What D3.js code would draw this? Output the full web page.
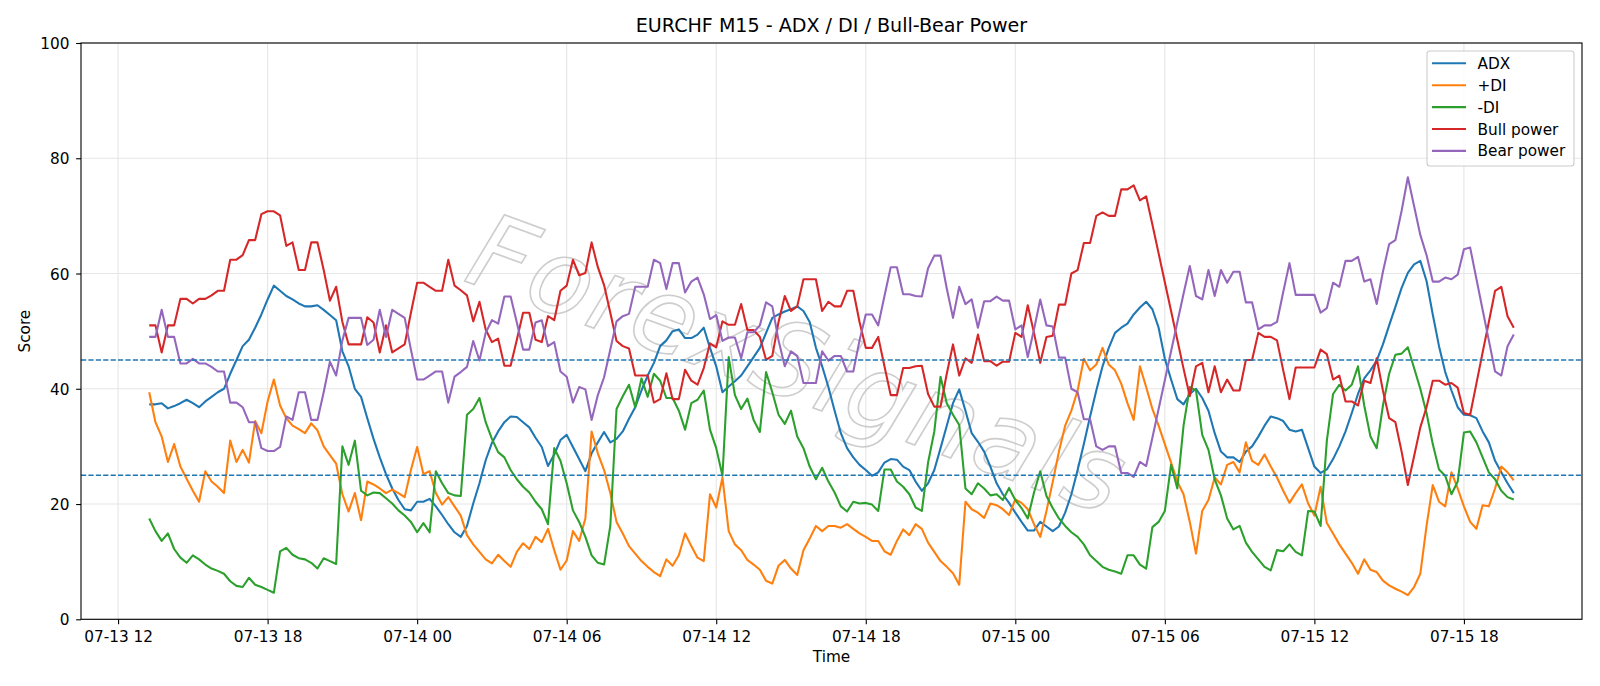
<!DOCTYPE html>
<html><head><meta charset="utf-8">
<script src="https://cdn.jsdelivr.net/npm/d3@7"></script>
<style>body{margin:0;background:#fff} svg{display:block} text{font-family:"DejaVu Sans",sans-serif}</style>
</head><body><svg id="c" width="1600" height="686"></svg>
<script>
const startTime = "2024-07-13T13:15:00Z";
const stepMinutes = 15;
const titleText = "EURCHF M15 - ADX / DI / Bull-Bear Power";
const seriesNames = ["ADX", "+DI", "-DI", "Bull power", "Bear power"];
const seriesColors = ["#1f77b4", "#ff7f0e", "#2ca02c", "#d62728", "#9467bd"];
const refLevels = [25, 45];
const yTicks = [0, 20, 40, 60, 80, 100];

const adx = [
37.3,37.3,37.5,36.6,37.0,37.5,38.1,37.5,36.8,37.8,
38.6,39.4,40.0,42.6,45.0,47.4,48.5,50.6,52.9,55.5,
57.9,57.0,56.1,55.5,54.8,54.3,54.3,54.5,53.7,52.8,
51.9,46.5,43.9,40.0,38.6,34.9,31.3,28.1,25.2,22.7,
20.7,19.1,18.9,20.4,20.4,20.9,19.6,18.1,16.5,15.1,
14.3,16.2,20.1,23.6,27.6,30.6,32.6,34.2,35.2,35.1,
34.2,33.3,31.5,29.9,26.6,28.6,31.1,32.0,29.9,27.8,
25.7,28.8,30.7,32.5,30.7,31.3,32.6,34.8,36.8,39.7,
42.3,44.5,47.4,48.4,50.0,50.3,48.8,48.8,49.4,50.6,
47.1,43.9,39.4,40.4,41.3,42.3,43.9,45.5,47.1,49.7,
52.3,52.9,53.4,53.8,54.3,53.5,51.6,47.1,43.9,40.3,
36.2,32.3,29.7,28.1,26.8,25.9,24.9,25.5,27.2,27.8,
27.7,26.5,25.9,23.9,22.3,23.6,25.9,29.7,33.6,37.5,
39.9,36.2,32.3,30.8,29.1,26.5,23.6,21.7,20.2,18.5,
16.9,15.4,15.4,16.9,16.1,15.3,16.1,18.5,21.7,25.9,
30.4,35.2,39.7,43.9,47.1,49.7,50.6,51.3,52.9,54.1,
55.1,53.8,50.6,45.2,41.6,38.2,37.3,39.1,40.0,38.4,
36.2,32.3,29.1,28.1,28.1,27.3,29.1,30.0,31.7,33.6,
35.2,34.9,34.4,32.9,32.6,32.9,29.7,26.5,25.4,26.0,
27.8,30.0,32.6,35.8,39.1,41.8,43.2,44.9,47.7,51.0,
54.2,57.5,60.1,61.6,62.2,58.7,52.9,47.4,42.9,39.7,
36.8,35.5,35.4,34.9,32.6,30.7,27.5,25.5,23.6,21.9];

const plusDI = [
39.4,34.2,31.7,27.3,30.4,26.5,24.4,22.3,20.4,25.7,
23.9,23.0,21.9,31.0,27.3,29.4,27.2,34.4,32.3,37.8,
41.6,37.1,34.9,33.6,33.0,32.3,34.0,32.8,30.0,28.5,
27.0,21.7,18.7,21.9,17.2,23.9,23.4,22.7,21.9,22.5,
21.9,21.2,25.9,29.9,25.2,25.7,21.9,19.9,21.2,19.6,
18.0,14.6,13.0,11.7,10.4,9.7,11.2,10.1,9.1,11.7,
13.2,12.2,14.3,13.4,15.7,12.0,8.6,10.2,15.3,13.6,
17.5,32.6,28.8,25.9,21.9,16.9,14.9,12.7,11.4,10.1,
9.1,8.2,7.5,10.4,9.3,11.1,14.9,12.7,10.7,10.1,
21.7,19.4,24.6,15.3,13.0,12.0,10.3,9.5,8.6,6.7,
6.2,9.3,10.3,8.8,7.7,12.0,14.0,16.2,15.3,16.2,
16.2,15.9,16.5,15.7,14.9,14.3,13.6,13.6,11.8,11.2,
13.6,15.6,14.6,16.5,15.7,13.3,11.7,10.1,9.1,8.0,
6.0,20.4,19.1,18.5,17.6,20.1,19.8,19.1,18.1,20.8,
20.2,19.1,16.5,14.3,18.8,23.8,29.1,33.6,36.2,39.7,
45.2,43.2,44.2,47.1,44.2,43.2,40.9,37.5,34.6,43.9,
40.3,36.5,33.6,30.4,27.2,23.9,21.7,16.9,11.4,18.8,
20.7,24.6,23.4,26.8,27.3,25.5,30.7,27.5,26.8,28.6,
26.5,24.6,22.3,20.2,21.9,23.4,20.1,18.0,23.0,16.7,
14.9,13.0,11.4,9.8,7.9,10.4,8.6,8.2,6.7,5.9,
5.3,4.8,4.2,5.6,7.9,16.2,23.3,20.4,19.6,25.5,
22.7,19.6,16.9,15.7,19.8,19.6,22.7,26.5,25.5,24.1];

const minusDI = [
17.5,15.3,13.6,14.9,12.2,10.7,9.8,11.1,10.4,9.5,
8.8,8.4,7.9,6.6,5.8,5.6,7.2,6.0,5.6,5.1,
4.6,11.8,12.4,11.2,10.6,10.4,9.8,8.8,10.6,10.1,
9.6,30.0,26.8,31.0,22.3,21.5,22.0,21.9,21.0,20.1,
18.9,18.0,16.9,15.1,16.7,15.1,25.7,23.6,21.9,21.5,
21.4,35.5,36.5,38.4,34.2,31.3,29.0,28.1,25.9,24.3,
23.0,22.0,20.4,19.1,16.5,29.7,27.5,23.6,18.9,16.9,
14.3,11.1,9.8,9.5,16.2,36.5,38.7,40.7,36.8,41.8,
38.6,42.6,41.4,38.4,38.4,36.2,32.9,37.5,38.1,39.7,
32.9,29.7,24.9,45.5,38.9,36.5,38.3,34.6,32.5,42.9,
39.4,35.5,33.9,36.2,31.7,29.7,26.5,24.3,26.3,23.9,
22.0,19.6,18.7,20.4,20.1,20.2,19.9,18.8,26.0,26.0,
23.9,23.0,21.7,19.4,18.8,27.2,32.6,42.1,37.5,35.5,
33.7,22.7,21.7,23.6,22.7,21.5,21.7,20.7,22.8,20.7,
19.3,17.5,22.0,25.7,21.4,19.3,17.5,16.2,15.1,14.3,
13.0,11.1,10.1,9.1,8.6,8.3,7.9,11.1,11.1,9.5,
8.8,16.0,16.9,18.8,26.8,22.7,33.6,40.3,39.7,32.0,
29.4,24.3,21.5,17.5,15.6,16.2,13.3,11.7,10.4,9.1,
8.5,12.0,11.8,13.0,11.7,11.1,18.8,18.7,16.2,31.0,
39.1,40.7,39.7,40.7,43.9,37.1,31.7,29.7,37.1,42.6,
45.9,46.1,47.2,43.6,40.0,35.8,30.4,26.0,24.9,21.7,
23.9,32.4,32.6,30.7,28.1,25.5,24.3,22.3,21.2,20.8];

const bullPower = [
51.0,51.0,46.3,51.0,51.0,55.6,55.6,54.8,55.6,55.6,
56.2,57.0,57.0,62.4,62.4,63.2,65.8,65.8,70.3,70.8,
70.8,70.1,64.8,65.4,60.6,60.6,65.4,65.4,60.6,55.3,
57.7,51.6,47.7,47.7,47.7,52.4,51.5,46.3,51.0,46.3,
47.0,47.7,53.2,58.4,58.4,57.7,57.0,57.0,62.4,57.9,
57.1,56.2,51.7,55.1,50.3,48.1,48.7,44.0,44.0,48.5,
53.2,53.2,48.5,48.1,52.6,51.9,57.0,57.9,62.4,59.7,
60.1,65.4,61.1,58.0,53.2,48.3,47.4,47.0,42.3,42.3,
42.3,37.6,38.2,42.7,38.2,38.2,43.3,41.4,40.7,43.6,
47.9,47.2,51.7,51.1,51.1,54.7,50.2,50.2,49.0,45.0,
45.7,51.6,56.1,53.5,54.3,59.0,59.0,59.0,53.5,55.1,
54.3,54.3,57.0,57.0,51.6,47.1,47.1,49.0,43.9,38.9,
38.9,43.6,43.6,43.9,44.0,39.1,36.9,36.9,42.6,47.7,
42.3,45.3,44.5,49.4,44.8,44.8,44.0,44.7,44.7,49.7,
49.0,54.5,49.7,44.5,49.0,49.2,54.6,54.6,60.0,60.6,
65.3,65.3,70.0,70.6,70.0,70.0,74.6,74.6,75.3,72.7,
73.4,68.5,63.5,58.5,53.5,48.5,43.5,38.7,43.9,44.5,
39.4,43.9,39.4,41.6,39.7,39.7,45.0,45.0,49.7,49.0,
49.0,48.4,43.2,38.2,43.7,43.7,43.7,43.7,46.8,46.0,
41.6,42.3,37.8,37.8,37.1,41.4,41.0,45.3,39.7,34.9,
34.2,29.1,23.3,28.3,33.3,36.8,41.4,41.4,40.7,41.0,
40.2,35.8,35.5,40.9,46.3,51.6,57.0,57.7,52.6,50.6];

const bearPower = [
49.0,49.0,53.7,49.0,49.0,44.4,44.4,45.2,44.4,44.4,
43.8,43.0,43.0,37.6,37.6,36.8,34.2,34.2,29.7,29.2,
29.2,29.9,35.2,34.6,39.4,39.4,34.6,34.6,39.4,44.7,
42.3,48.4,52.3,52.3,52.3,47.6,48.5,53.7,49.0,53.7,
53.0,52.3,46.8,41.6,41.6,42.3,43.0,43.0,37.6,42.1,
42.9,43.8,48.3,44.9,49.7,51.9,51.3,56.0,56.0,51.5,
46.8,46.8,51.5,51.9,47.4,48.1,43.0,42.1,37.6,40.3,
39.9,34.6,38.9,42.0,46.8,51.7,52.6,53.0,57.7,57.7,
57.7,62.4,61.8,57.3,61.8,61.8,56.7,58.6,59.3,56.4,
52.1,52.8,48.3,48.9,48.9,45.3,49.8,49.8,51.0,55.0,
54.3,48.4,43.9,46.5,45.7,41.0,41.0,41.0,46.5,44.9,
45.7,45.7,43.0,43.0,48.4,52.9,52.9,51.0,56.1,61.1,
61.1,56.4,56.4,56.1,56.0,60.9,63.1,63.1,57.4,52.3,
57.7,54.7,55.5,50.6,55.2,55.2,56.0,55.3,55.3,50.3,
51.0,45.5,50.3,55.5,51.0,50.8,45.4,45.4,40.0,39.4,
34.7,34.7,30.0,29.4,30.0,30.0,25.4,25.4,24.7,27.3,
26.6,31.5,36.5,41.5,46.5,51.5,56.5,61.3,56.1,55.5,
60.6,56.1,60.6,58.4,60.3,60.3,55.0,55.0,50.3,51.0,
51.0,51.6,56.8,61.8,56.3,56.3,56.3,56.3,53.2,54.0,
58.4,57.7,62.2,62.2,62.9,58.6,59.0,54.7,60.3,65.1,
65.8,70.9,76.7,71.7,66.7,63.2,58.6,58.6,59.3,59.0,
59.8,64.2,64.5,59.1,53.7,48.4,43.0,42.3,47.4,49.4];

const allSeries = [adx, plusDI, minusDI, bullPower, bearPower];

const svg = d3.select("#c");
const m = {l: 81, r: 1582, t: 43, b: 619.3};
const t0 = d3.isoParse(startTime);
const times = adx.map((_, i) => new Date(+t0 + i * stepMinutes * 60000));
const tMin = +times[0], tMax = +times[times.length - 1], span = tMax - tMin;
const x = d3.scaleUtc().domain([new Date(tMin - 0.05 * span), new Date(tMax + 0.05 * span)]).range([m.l, m.r]);
const y = d3.scaleLinear().domain([0, 100]).range([m.b, m.t]);
const xTicks = x.ticks(d3.utcHour.every(6));
const fmt = d3.utcFormat("%m-%d %H");

// grid
const grid = svg.append("g").attr("stroke", "#e6e6e6").attr("stroke-width", 1.1);
grid.selectAll(".gx").data(xTicks).join("line")
  .attr("x1", d => x(d)).attr("x2", d => x(d)).attr("y1", m.t).attr("y2", m.b);
grid.selectAll(".gy").data(yTicks).join("line")
  .attr("x1", m.l).attr("x2", m.r).attr("y1", d => y(d)).attr("y2", d => y(d));

// watermark (behind lines)
svg.append("text")
  .attr("transform", "translate(786,398) rotate(20)")
  .attr("text-anchor", "middle")
  .attr("font-size", 104).attr("font-style", "italic")
  .attr("letter-spacing", 2)
  .attr("fill", "none").attr("stroke", "#bdbdbd").attr("stroke-width", 1.6)
  .attr("opacity", 0.75)
  .text("ForexSignals");

// series
const line = d3.line().x((d, i) => x(times[i])).y(d => y(d));
svg.append("g").selectAll("path").data(allSeries).join("path")
  .attr("d", d => line(d))
  .attr("fill", "none")
  .attr("stroke", (d, i) => seriesColors[i])
  .attr("stroke-width", 2.08)
  .attr("stroke-linejoin", "round");

// reference lines
svg.append("g").selectAll("line").data(refLevels).join("line")
  .attr("x1", m.l).attr("x2", m.r).attr("y1", d => y(d)).attr("y2", d => y(d))
  .attr("stroke", "#1f77b4").attr("stroke-width", 1.4).attr("stroke-dasharray", "5.2,2.2");

// spines
svg.append("rect").attr("x", m.l).attr("y", m.t).attr("width", m.r - m.l).attr("height", m.b - m.t)
  .attr("fill", "none").attr("stroke", "#000").attr("stroke-width", 1.1);

// x axis
const xAxis = d3.axisBottom(x).tickValues(xTicks).tickFormat(fmt).tickSize(4.86).tickPadding(4.86);
const gx = svg.append("g").attr("transform", `translate(0,${m.b})`).call(xAxis);
gx.select(".domain").remove();
gx.selectAll(".tick line").attr("stroke", "#000").attr("stroke-width", 1.1);
gx.selectAll(".tick text").attr("y", 22.5).attr("dy", 0).attr("font-size", 15.3)
  .attr("font-family", "DejaVu Sans").attr("fill", "#000");

// y axis
const yAxis = d3.axisLeft(y).tickValues(yTicks).tickFormat(d3.format("d")).tickSize(4.86).tickPadding(4.86);
const gy = svg.append("g").attr("transform", `translate(${m.l},0)`).call(yAxis);
gy.select(".domain").remove();
gy.selectAll(".tick line").attr("stroke", "#000").attr("stroke-width", 1.1);
gy.selectAll(".tick text").attr("x", -11.5).attr("dy", "0.36em").attr("font-size", 15.3)
  .attr("font-family", "DejaVu Sans").attr("fill", "#000");

// labels
svg.append("text").attr("x", (m.l + m.r) / 2).attr("y", 31.5).attr("text-anchor", "middle")
  .attr("font-size", 19.1).text(titleText);
svg.append("text").attr("x", (m.l + m.r) / 2).attr("y", 662).attr("text-anchor", "middle")
  .attr("font-size", 15.3).text("Time");
svg.append("text").attr("transform", `translate(30,${(m.t + m.b) / 2}) rotate(-90)`).attr("text-anchor", "middle")
  .attr("font-size", 15.3).text("Score");

// legend
const lg = svg.append("g");
lg.append("rect").attr("x", 1427).attr("y", 51).attr("width", 147).attr("height", 115).attr("rx", 3)
  .attr("fill", "rgba(255,255,255,0.8)").attr("stroke", "#cccccc").attr("stroke-width", 1.1);
const rowY = i => 63.3 + i * 21.9;
seriesNames.forEach((name, i) => {
  lg.append("line").attr("x1", 1432).attr("x2", 1466).attr("y1", rowY(i)).attr("y2", rowY(i))
    .attr("stroke", seriesColors[i]).attr("stroke-width", 2.08);
  lg.append("text").attr("x", 1477.5).attr("y", rowY(i)).attr("dy", "0.36em")
    .attr("font-size", 15.3).text(name);
});
</script></body></html>
